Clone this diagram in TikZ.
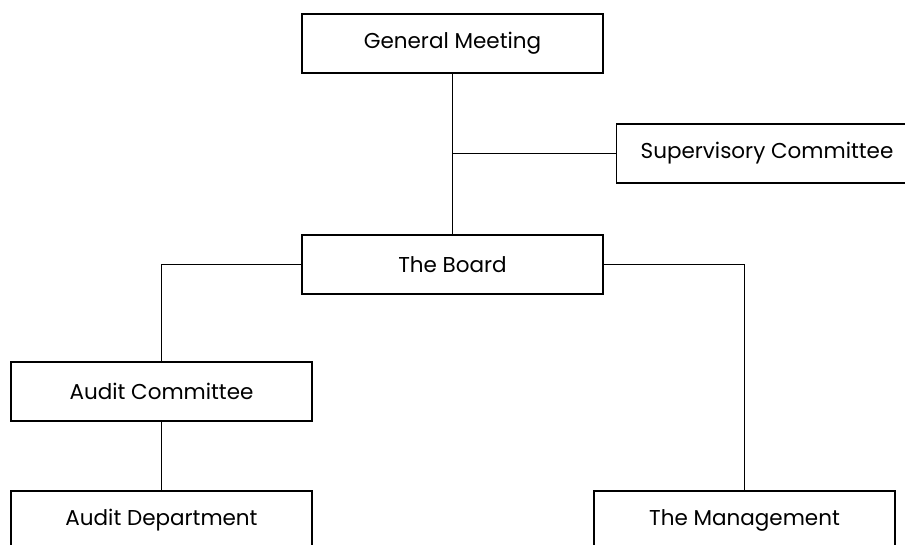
\documentclass[tikz,border=0pt]{standalone}
\usepackage{fontspec}
\setmainfont{Poppins}
\begin{document}
\begin{tikzpicture}[x=1pt,y=1pt,
  orgbox/.style={draw=black,line width=1.1pt,minimum width=301pt,minimum height=59pt,inner sep=0pt,fill=white,font=\fontsize{21.5}{24}\selectfont},
  conn/.style={draw=black,line width=1pt}]
\useasboundingbox (0,0) rectangle (905,-545);
\clip (0,0) rectangle (905,-545);
\node[orgbox] (gm) at (452.5,-43.5) {General Meeting};
\node[orgbox] (sc) at (767,-153.5) {Supervisory Committee};
\node[orgbox] (board) at (452.5,-264.5) {The Board};
\node[orgbox] (ac) at (161.5,-391.5) {Audit Committee};
\node[orgbox] (ad) at (161.5,-520.5) {Audit Department};
\node[orgbox] (mg) at (744.5,-520.5) {The Management};
\draw[conn] (gm.south) -- (board.north);
\draw[conn] (sc.west) -- (sc.west -| gm.south);
\draw[conn] (board.west) -| (ac.north);
\draw[conn] (board.east) -| (mg.north);
\draw[conn] (ac.south) -- (ad.north);
\end{tikzpicture}
\end{document}
